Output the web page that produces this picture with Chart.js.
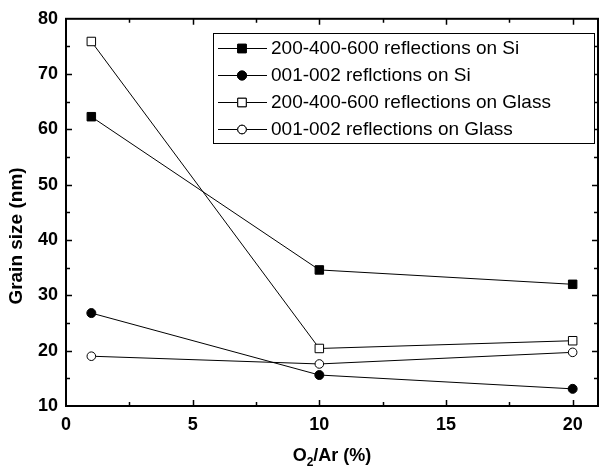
<!DOCTYPE html>
<html>
<head>
<meta charset="utf-8">
<script src="https://cdn.jsdelivr.net/npm/chart.js@4.4.1/dist/chart.umd.min.js"></script>
<style>
  html, body { margin: 0; padding: 0; background: #fff; }
  #wrap { width: 605px; height: 475px; }
</style>
</head>
<body>
<div id="wrap"><canvas id="grain"></canvas></div>
<script>
// --- data ---
var oxygenRatio = [1, 10, 20];
var si200 = [62.3, 34.6, 32.0];
var si001 = [26.8, 15.6, 13.1];
var glass200 = [75.9, 20.4, 21.8];
var glass001 = [19.0, 17.6, 19.7];
var seriesLabels = [
  '200-400-600 reflections on Si',
  '001-002 reflctions on Si',
  '200-400-600 reflections on Glass',
  '001-002 reflections on Glass'
];
var xTicks = [0, 5, 10, 15, 20];
var yTicks = [10, 20, 30, 40, 50, 60, 70, 80];

var fontFamily = "'Liberation Sans', Arial, sans-serif";
var black = '#000';

function pts(ys) {
  return ys.map(function (y, i) { return { x: oxygenRatio[i], y: y }; });
}

function series(label, ys, style, filled, radius) {
  return {
    label: label,
    data: pts(ys),
    borderColor: black,
    borderWidth: 1,
    pointStyle: style,
    pointRadius: radius,
    pointBorderWidth: 1,
    pointBorderColor: black,
    pointBackgroundColor: filled ? black : '#fff',
    showLine: true,
    fill: false,
    tension: 0
  };
}

// frame with inward ticks on all four sides
var framePlugin = {
  id: 'frame',
  afterDatasetsDraw: function (chart) {
    var ctx = chart.ctx;
    var a = chart.chartArea;
    var xs = chart.scales.x, ys = chart.scales.y;
    ctx.save();
    ctx.strokeStyle = black;
    ctx.lineWidth = 1.5;
    var v, p, len;
    for (v = 2.5; v <= 20; v += 2.5) {
      p = Math.round(xs.getPixelForValue(v)) + 0.5;
      len = (v % 5 === 0) ? 6 : 4;
      ctx.beginPath();
      ctx.moveTo(p, a.bottom); ctx.lineTo(p, a.bottom - len);
      ctx.moveTo(p, a.top); ctx.lineTo(p, a.top + len);
      ctx.stroke();
    }
    for (v = 15; v < 80; v += 5) {
      p = Math.round(ys.getPixelForValue(v)) + 0.5;
      len = (v % 10 === 0) ? 6 : 4;
      ctx.beginPath();
      ctx.moveTo(a.left, p); ctx.lineTo(a.left + len, p);
      ctx.moveTo(a.right, p); ctx.lineTo(a.right - len, p);
      ctx.stroke();
    }
    ctx.lineWidth = 2;
    ctx.strokeRect(a.left, a.top, a.right - a.left, a.bottom - a.top);
    ctx.restore();
  }
};

// axis titles and the boxed legend inside the plot
var labelPlugin = {
  id: 'labels',
  afterDraw: function (chart) {
    var ctx = chart.ctx;
    var a = chart.chartArea;
    ctx.save();
    ctx.fillStyle = black;

    // y title
    ctx.save();
    ctx.translate(17, 236);
    ctx.rotate(-Math.PI / 2);
    ctx.font = 'bold 19px ' + fontFamily;
    ctx.textAlign = 'center';
    ctx.textBaseline = 'middle';
    ctx.fillText('Grain size (nm)', 0, 0);
    ctx.restore();

    // x title with subscript
    ctx.textBaseline = 'alphabetic';
    ctx.textAlign = 'left';
    var big = 'bold 18px ' + fontFamily;
    var small = 'bold 12px ' + fontFamily;
    ctx.font = big;
    var wO = ctx.measureText('O').width;
    var wRest = ctx.measureText('/Ar (%)').width;
    ctx.font = small;
    var w2 = ctx.measureText('2').width;
    var total = wO + w2 + wRest;
    var cx = (a.left + a.right) / 2;
    var x0 = cx - total / 2, base = 461;
    ctx.font = big;
    ctx.fillText('O', x0, base);
    ctx.font = small;
    ctx.fillText('2', x0 + wO, base + 5);
    ctx.font = big;
    ctx.fillText('/Ar (%)', x0 + wO + w2, base);

    // legend
    var bx = 213, by = 33, bw = 381, bh = 110;
    ctx.lineWidth = 1;
    ctx.strokeStyle = black;
    ctx.fillStyle = '#fff';
    ctx.fillRect(bx, by, bw, bh);
    ctx.strokeRect(bx + 0.5, by + 0.5, bw, bh);
    ctx.font = '19px ' + fontFamily;
    ctx.textBaseline = 'middle';
    chart.data.datasets.forEach(function (ds, i) {
      var ry = 48 + i * 27;
      ctx.beginPath();
      ctx.moveTo(218, ry + 0.5);
      ctx.lineTo(267, ry + 0.5);
      ctx.strokeStyle = black;
      ctx.lineWidth = 1;
      ctx.stroke();
      ctx.fillStyle = ds.pointBackgroundColor;
      Chart.helpers.drawPoint(ctx, {
        pointStyle: ds.pointStyle,
        radius: ds.pointRadius,
        borderWidth: 1
      }, 242, ry + 0.5);
      ctx.fill();
      ctx.stroke();
      ctx.fillStyle = black;
      ctx.fillText(ds.label, 271, ry + 1);
    });
    ctx.restore();
  }
};

new Chart(document.getElementById('grain').getContext('2d'), {
  type: 'scatter',
  data: {
    datasets: [
      series(seriesLabels[0], si200, 'rect', true, 6),
      series(seriesLabels[1], si001, 'circle', true, 4.5),
      series(seriesLabels[2], glass200, 'rect', false, 6),
      series(seriesLabels[3], glass001, 'circle', false, 4.3)
    ]
  },
  options: {
    responsive: true,
    maintainAspectRatio: false,
    animation: false,
    layout: { padding: { top: 17, right: 1, left: 0, bottom: 0 } },
    scales: {
      x: {
        type: 'linear',
        min: 0,
        max: 21,
        afterFit: function (s) { s.height = 69; },
        afterBuildTicks: function (s) {
          s.ticks = xTicks.map(function (v) { return { value: v }; });
        },
        grid: { display: false, drawTicks: false },
        border: { display: false },
        ticks: {
          color: black,
          padding: 8,
          maxRotation: 0,
          font: { family: fontFamily, size: 18, weight: 'bold' }
        }
      },
      y: {
        type: 'linear',
        min: 10,
        max: 80,
        afterFit: function (s) { s.width = 66; },
        afterBuildTicks: function (s) {
          s.ticks = yTicks.map(function (v) { return { value: v }; });
        },
        grid: { display: false, drawTicks: false },
        border: { display: false },
        ticks: {
          color: black,
          padding: 8,
          font: { family: fontFamily, size: 18, weight: 'bold' }
        }
      }
    },
    plugins: {
      legend: { display: false },
      tooltip: { enabled: false }
    }
  },
  plugins: [framePlugin, labelPlugin]
});
</script>
</body>
</html>
